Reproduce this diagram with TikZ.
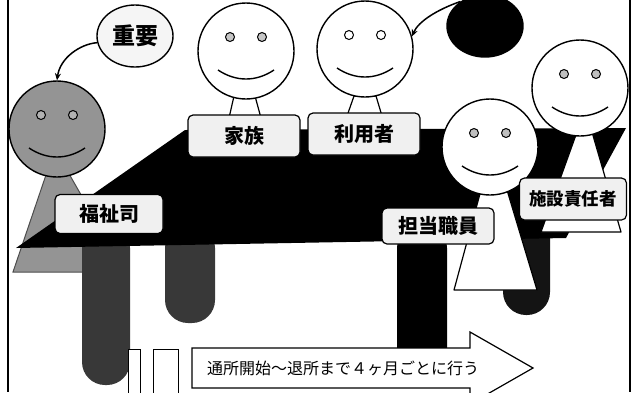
\documentclass[tikz,border=0pt]{standalone}
\usepackage{fontspec}
\newfontfamily\jp{Noto Sans CJK JP}
\usetikzlibrary{arrows.meta,shapes.geometric}
\tikzset{
  head/.style   = {circle,draw,line width=1.4pt,minimum size=96pt,inner sep=0pt},
  eye/.style    = {draw,line width=1pt},
  smile/.style  = {line width=1.4pt},
  neck/.style   = {draw,fill=white,line width=1.2pt,line join=round},
  leg/.style    = {rounded corners=23pt},
  tag/.style    = {draw,line width=1.2pt,rounded corners=5pt,fill=gray!12,inner sep=0pt,
                   font=\jp\bfseries\fontsize{20}{20}\selectfont},
  bubble/.style = {ellipse,draw,line width=1.4pt,minimum width=76pt,minimum height=62pt,inner sep=0pt},
  link/.style   = {-{Stealth[length=7pt,width=6pt]},line width=1.5pt},
  slot/.style   = {draw,fill=white,line width=1pt}
}
% face: name, x, y, head fill, eye fill
\newcommand{\smiley}[5]{%
  \node[head,fill=#4] (#1) at (#2,#3) {};
  \begin{scope}[shift={(#2,#3)}]
    \draw[eye,fill=#5] (-16,-14) circle (4.5);
    \draw[eye,fill=#5] (16,-14) circle (4.5);
    \draw[smile] (-28,19) .. controls (-10,31) and (10,31) .. (28,19);
  \end{scope}
}

\begin{document}
\begin{tikzpicture}[x=1pt,y=-1pt]
  \useasboundingbox (0,0) rectangle (634,392);
  \draw[line width=2.5pt] (8,0) -- (8,392);
  \draw[line width=2pt] (630,0) -- (630,392);

  % the social worker stands behind the table
  \filldraw[fill=black!42,draw=black!70,line width=1pt] (47,172) -- (68,172) -- (125,272) -- (13,272) -- cycle;

  % legs, then the table top over them
  \fill[black!78,leg] (82,225) rectangle (130,385);
  \fill[black!78,leg] (165,225) rectangle (215,323);
  \fill[black,leg] (397,225) rectangle (447,380);
  \fill[black!92,leg] (503,215) rectangle (550,315);
  \fill (185,130) -- (626,128) -- (566,238) -- (16,248) -- cycle;

  % bodies
  \draw[neck] (234,96) -- (255,96) -- (261,118) -- (229,118) -- cycle;
  \draw[neck] (354,96) -- (376,96) -- (382,116) -- (347,116) -- cycle;
  \draw[neck] (481,190) -- (507,190) -- (537,290) -- (454,290) -- cycle;
  \draw[neck] (577,132) -- (592,132) -- (621,232) -- (541,232) -- cycle;

  \smiley{fukushi}{57}{129}{black!42}{gray!60}
  \smiley{kazoku}{246}{51}{white}{gray!45}
  \smiley{riyosha}{365}{49}{white}{white}
  \smiley{tanto}{490}{147}{white}{gray!50}
  \smiley{shisetsu}{580}{88}{white}{gray!50}

  \node[tag,minimum width=108pt,minimum height=39pt] (fukushiTag) at (109,214) {福祉司};
  \node[tag,minimum width=112pt,minimum height=42pt] (kazokuTag) at (244,136) {家族};
  \node[tag,minimum width=112pt,minimum height=42pt] (riyoshaTag) at (364,134) {利用者};
  \node[tag,minimum width=112pt,minimum height=36pt] (tantoTag) at (438,226) {担当職員};
  \node[tag,minimum width=107pt,minimum height=42pt,
        font=\jp\bfseries\fontsize{17.5}{17.5}\selectfont] (shisetsuTag) at (573,199) {施設責任者};

  % speech bubbles
  \node[bubble,fill=gray!8,font=\jp\bfseries\fontsize{23}{23}\selectfont] (juyo) at (135,36) {重要};
  \node[bubble,fill=black] (kage) at (485,26) {};
  \draw[link] (juyo.190) .. controls (80,44) and (60,58) .. (fukushi.north);
  \draw[link] (kage.135) .. controls (436,10) and (418,22) .. (riyosha.15);

  % timeline arrow
  \draw[slot] (128,349) rectangle (140,396);
  \draw[slot] (153,349) rectangle (178,396);
  \draw[slot,line width=1.2pt] (192,348) -- (470,348) -- (470,332) -- (533,368)
        -- (470,404) -- (470,388) -- (192,388) -- cycle;
  \node[anchor=west,inner sep=0pt,font=\jp\fontsize{16}{16}\selectfont] (span) at (207,368)
        {通所開始～退所まで４ヶ月ごとに行う};
\end{tikzpicture}
\end{document}
